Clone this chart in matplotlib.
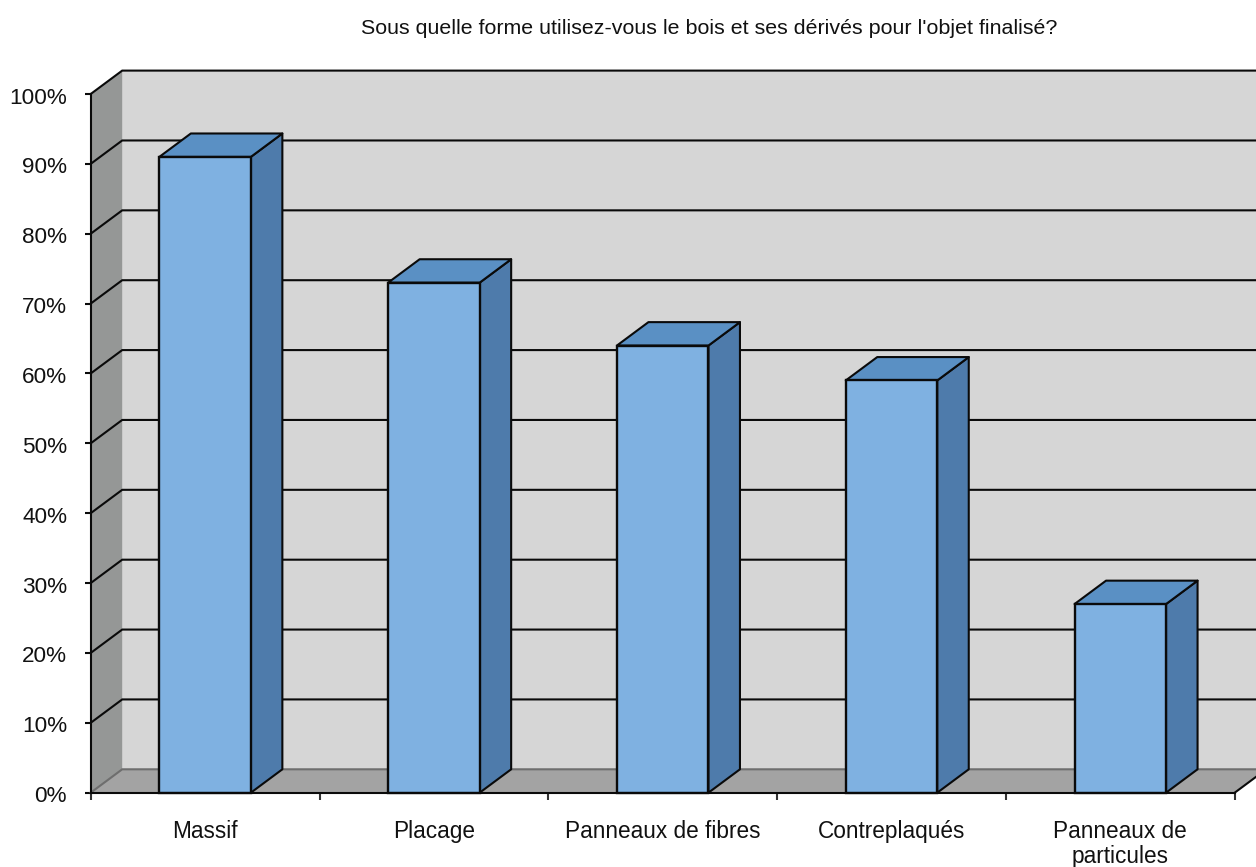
import matplotlib
matplotlib.use("Agg")
import matplotlib.pyplot as plt
from matplotlib.patches import Polygon
from matplotlib.transforms import ScaledTranslation

plt.rcParams['font.family'] = ['Liberation Sans', 'DejaVu Sans']

title = "Sous quelle forme utilisez-vous le bois et ses dérivés pour l'objet finalisé?"
categories = ["Massif", "Placage", "Panneaux de fibres", "Contreplaqués", "Panneaux de\nparticules"]
values = [91, 73, 64, 59, 27]
y_ticks = [0, 10, 20, 30, 40, 50, 60, 70, 80, 90, 100]
y_labels = ["0%", "10%", "20%", "30%", "40%", "50%", "60%", "70%", "80%", "90%", "100%"]

W, H = 1256, 867
fig = plt.figure(figsize=(W / 100, H / 100), dpi=100, facecolor="white")
x0, x1, y0, y1 = 90.7, 1234.7, 792.7, 94.0
ax = fig.add_axes([x0 / W, 1 - y0 / H, (x1 - x0) / W, (y0 - y1) / H])
ax.set_xlim(0, 5)
ax.set_ylim(0, 100)
ax.patch.set_visible(False)

DX = 31.5 / ((x1 - x0) / 5)
DY = 23.4 / ((y0 - y1) / 100)
LINE = "#0a0a0a"
LW = 1.5
BACK, FLOOR, WALL = "#d6d6d6", "#a3a3a3", "#959796"
FRONT, TOP, SIDE = "#7fb1e1", "#5a90c4", "#4e7bab"
BAR_W = 0.4

def poly(pts, color, z, edge=None, lw=LW):
    ax.add_patch(Polygon(pts, closed=True, facecolor=color, edgecolor=edge or "none",
                         linewidth=lw if edge else 0, zorder=z, clip_on=False, joinstyle="round"))

# 3D box walls
poly([(DX, DY), (5 + DX, DY), (5 + DX, 100 + DY), (DX, 100 + DY)], BACK, 1)
poly([(0, 0), (DX, DY), (DX, 100 + DY), (0, 100)], WALL, 1)
poly([(0, 0), (5, 0), (5 + DX, DY), (DX, DY)], FLOOR, 1)

# Gridlines on walls
for t in y_ticks:
    ax.plot([0, DX, 5 + DX], [t, t + DY, t + DY], color=LINE if t else "#6e6e6e",
            lw=LW, zorder=2, clip_on=False, solid_joinstyle="miter")
ax.plot([5, 5 + DX], [0, DY], color=LINE, lw=LW, zorder=2, clip_on=False)

# Bars
for i, v in enumerate(values):
    l = i + 0.5 - BAR_W / 2
    r = i + 0.5 + BAR_W / 2
    poly([(r, 0), (r + DX, DY), (r + DX, v + DY), (r, v)], SIDE, 3, LINE)
    poly([(l, v), (r, v), (r + DX, v + DY), (l + DX, v + DY)], TOP, 3, LINE)
    ax.bar(i + 0.5, v, width=BAR_W, color=FRONT, edgecolor=LINE, linewidth=LW + 0.2, zorder=4, clip_on=False)

# Axes
for s in ("top", "right"):
    ax.spines[s].set_visible(False)
for s in ("left", "bottom"):
    ax.spines[s].set_color(LINE)
    ax.spines[s].set_linewidth(LW)
    ax.spines[s].set_zorder(5)
ax.set_yticks(y_ticks, y_labels)
ax.tick_params(axis="y", length=4, width=LW, color=LINE, pad=13, labelsize=16.2, labelcolor="#111111")
shift = ScaledTranslation(0, -4 / 100, fig.dpi_scale_trans)
for lab in ax.get_yticklabels():
    lab.set_verticalalignment("center")
    lab.set_transform(lab.get_transform() + shift)
ax.set_xticks(range(6), [""] * 6)
ax.tick_params(axis="x", which="major", length=5, width=LW, color="#333333")
ax.set_xticks([i + 0.5 for i in range(5)], categories, minor=True)
ax.tick_params(axis="x", which="minor", length=0, pad=19.5, labelsize=16.3, labelcolor="#111111")
for lab in ax.get_xticklabels(minor=True):
    lab.set_linespacing(1.1)

fig.text(709 / W, 1 - 29 / H, title, ha="center", va="center", fontsize=15.4, color="#111111")

fig.savefig("out.png", dpi=100, facecolor="white")
